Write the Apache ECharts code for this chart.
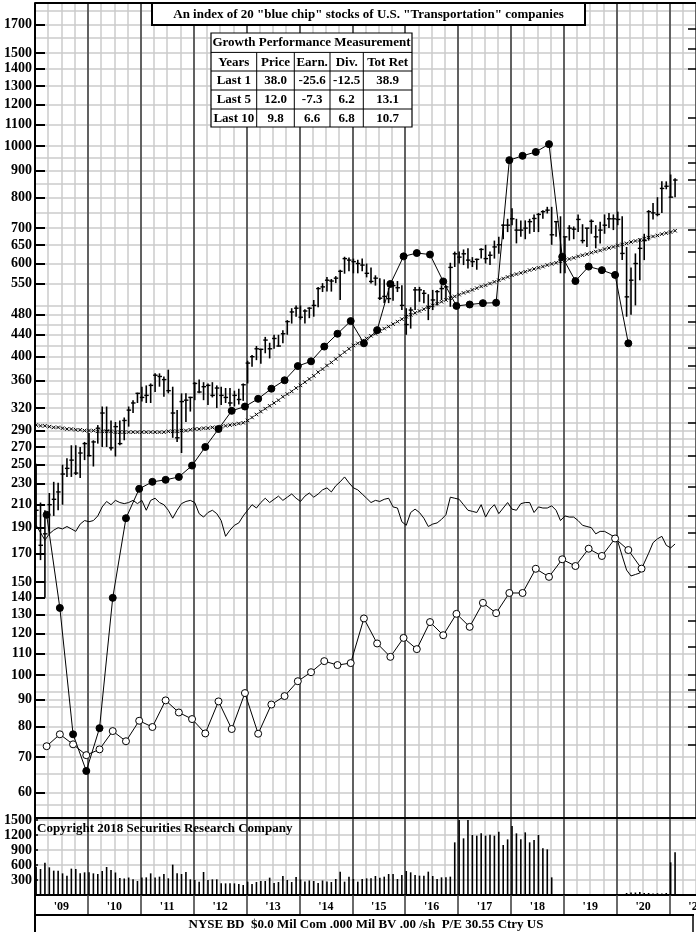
<!DOCTYPE html>
<html lang="en">
<head>
<meta charset="UTF-8" />
<title>Transportation index</title>
<script src="https://cdn.jsdelivr.net/npm/echarts@6/dist/echarts.min.js"></script>
<style>
  html, body { margin: 0; padding: 0; background: #fff; }
  #main { width: 696px; height: 932px; }
</style>
</head>
<body>
<div id="main"></div>
<script>
// monthly bars, Jan 2009 .. Feb 2021
var priceHigh = [251,212,205,221,232,231,250,257,272,272,270,276,
  287,278,297,322,322,303,301,303,307,322,331,342,
  351,353,356,372,372,367,378,351,317,341,341,336,
  358,362,358,356,358,353,351,349,349,345,348,356,
  393,403,419,414,436,425,440,440,449,469,494,500,
  500,492,496,512,542,551,566,561,568,584,618,616,
  613,610,613,600,590,570,563,560,540,555,556,546,
  494,496,542,542,535,525,535,535,546,546,602,632,
  632,638,641,617,613,641,651,632,663,674,712,729,
  763,729,724,724,729,743,748,757,768,768,720,737,
  674,709,705,743,712,700,727,709,720,743,748,743,
  752,737,645,590,627,669,683,757,781,801,858,858,884,870];
var priceLow = [190,165,140,185,200,205,210,237,237,239,236,255,
  259,248,274,270,270,266,259,272,278,295,313,327,
  329,327,327,343,351,336,341,281,276,263,301,315,
  331,341,331,324,335,320,324,327,322,322,325,330,
  356,383,394,388,406,397,414,418,424,440,462,476,
  470,462,473,476,496,530,531,531,551,512,574,580,
  575,575,580,565,550,545,512,505,505,510,530,490,
  440,452,490,508,505,469,490,500,512,512,497,591,
  600,596,587,591,584,613,600,596,613,626,667,688,
  709,655,674,667,683,688,688,729,746,651,674,575,
  575,663,667,688,655,645,683,641,655,683,700,694,
  709,609,476,480,500,558,609,663,727,737,748,829,801,801];
var priceClose = [205,176,185,210,215,222,240,246,255,241,263,274,
  260,276,293,313,290,269,295,274,303,317,327,341,
  335,338,353,369,367,362,345,313,281,329,331,335,
  356,343,351,353,338,349,338,335,327,338,332,354,
  389,400,414,413,430,414,433,419,442,466,486,494,
  475,488,494,500,538,542,558,556,563,580,613,609,
  605,600,596,575,555,563,516,520,515,545,540,500,
  460,490,535,535,527,497,512,531,538,542,590,626,
  617,626,609,605,611,638,613,622,645,651,709,709,
  729,694,694,700,720,730,743,752,757,680,720,609,
  674,700,697,727,663,700,721,674,694,709,729,729,
  727,627,519,558,600,641,663,752,748,743,832,840,801,863];
var movingAvg = [297,296,296,295,294,294,293,292,292,291,291,290,290,
  290,289,289,289,289,288,288,288,288,288,288,288,
  288,288,288,288,288,289,289,289,290,290,291,292,
  292,293,293,294,294,295,296,297,298,299,300,
  303,307,311,315,319,323,327,331,336,340,344,349,353,
  358,363,368,374,379,385,390,396,402,408,414,420,
  424,429,433,438,442,447,452,456,461,466,471,476,
  480,484,488,492,496,500,504,508,512,516,520,524,
  528,531,535,539,543,546,550,554,558,562,566,570,
  573,576,579,583,586,589,592,596,599,602,606,609,
  612,615,619,622,625,629,632,635,639,642,645,649,
  652,655,659,662,665,669,672,675,678,682,685,688,692];
var relStrength = [192,186,180,185,188,190,189,191,189,187,193,196,
  195,196,200,208,213,210,214,212,211,212,214,211,
  214,205,214,216,212,210,205,198,205,211,213,214,
  212,202,199,203,205,202,196,183,188,192,194,200,
  205,210,207,212,216,212,215,218,214,217,220,216,
  213,218,221,217,220,224,226,222,228,232,237,231,
  226,224,220,216,212,214,213,215,216,208,207,195,
  192,203,206,203,198,191,193,194,197,201,217,216,
  215,210,205,204,203,210,199,206,210,202,207,212,
  206,205,211,212,212,203,208,207,207,209,205,196,
  200,199,199,196,192,191,190,185,187,187,185,183,
  179,168,158,154,155,156,163,170,178,181,183,176,174,177];
var volume = [567,520,647,553,487,487,433,387,527,520,433,453,
  453,433,420,480,560,500,450,340,330,350,313,280,
  350,353,433,350,367,420,333,607,433,420,460,313,
  300,267,460,300,313,313,233,233,233,233,220,200,
  267,220,260,280,280,347,240,260,380,300,260,360,
  310,270,290,280,240,290,270,260,320,467,267,367,
  320,267,320,333,333,380,347,367,420,420,320,400,
  480,453,400,387,387,467,380,320,353,353,367,1053,
  1500,1133,1500,1200,1187,1233,1187,1207,1187,1267,1000,1113,
  1380,1233,1113,1253,1053,1100,1200,933,913,353,0,0,
  0,0,0,0,0,0,0,0,0,0,0,0,
  0,0,40,50,50,60,40,40,30,35,30,40,653,853];

// quarterly
var earnings = [201,134,77.3,65.9,79.4,140,198,225,232,234,237,249,270,292,316,
  322,333,348,361,384,392,418,442,467,424,449,549,619,628,624,555,499,502,505,506,
  941,959,975,1009,618,556,592,583,571,424];
var dividends = [73.4,77.3,74,70.6,72.4,78.4,75,82,79.8,89.6,85,82.6,77.6,89.2,79.1,
  92.5,77.5,88,91.3,97.4,101.3,106.3,104.5,105.4,128,114.8,108.3,117.6,112,126,119,
  130.6,123.4,137,131,143,143,158.9,153.4,165.6,160.8,173.4,168,181.3,172.4,159];

var yLabels = [60,70,80,90,100,110,120,130,140,150,170,190,210,230,250,270,290,320,360,
  400,440,480,550,600,650,700,800,900,1000,1100,1200,1300,1400,1500,1700];
var yGrid = [57,60,65,70,74,80,87,90,93,100,110,120,130,140,150,160,170,180,190,200,
  210,220,230,240,250,260,270,280,290,300,320,340,360,380,400,420,440,460,480,500,
  550,600,650,700,750,800,850,900,950,1000,1100,1200,1300,1400,1500,1600,1700,1800];
var rightTicks = [74,80,87,94,100,113,127,147,160,186,200,227,260,300,350,384,415,465,
  500,566,632,695,767,863,930,1000,1131,1400,1530,1666];
var volLabels = [300,600,900,1200,1500];
var yearStarts = [2010,2011,2012,2013,2014,2015,2016,2017,2018,2019,2020,2021];
var yearMids = [2009.5,2010.5,2011.5,2012.5,2013.5,2014.5,2015.5,2016.5,2017.5,2018.5,2019.5,2020.5,2021.5];

var tableHead = ['Years', 'Price', 'Earn.', 'Div.', 'Tot Ret'];
var tableRows = [
  ['Last 1', '38.0', '-25.6', '-12.5', '38.9'],
  ['Last 5', '12.0', '-7.3', '6.2', '13.1'],
  ['Last 10', '9.8', '6.6', '6.8', '10.7']
];

var FONT = 'Liberation Serif';
var XMIN = 2009, XMAX = 2021.5;
var YMIN = 53.7, YMAX = 1865;

function monthX(i) { return 2009 + (i + 0.25) / 12; }
function quarterX(i) { return 2009.22 + i * 0.25; }

var barData = priceHigh.map(function (h, i) {
  return [monthX(i), h, priceLow[i], priceClose[i]];
});
var maData = movingAvg.map(function (v, i) { return [monthX(i), v]; });
var rsData = relStrength.map(function (v, i) { return [monthX(i), v]; });
var volData = volume.map(function (v, i) { return [monthX(i), v]; });
var epsData = earnings.map(function (v, i) { return [quarterX(i), v]; });
var divData = dividends.map(function (v, i) { return [quarterX(i), v]; });

function renderBar(params, api) {
  var x = api.value(0);
  var hi = api.coord([x, api.value(1)]);
  var lo = api.coord([x, api.value(2)]);
  var cl = api.coord([x, api.value(3)]);
  return {
    type: 'group',
    children: [
      { type: 'line', shape: { x1: hi[0], y1: hi[1], x2: lo[0], y2: lo[1] },
        style: { stroke: '#000', lineWidth: 1.6 } },
      { type: 'line', shape: { x1: cl[0] - 2, y1: cl[1], x2: cl[0] + 2.5, y2: cl[1] },
        style: { stroke: '#000', lineWidth: 1.4 } }
    ]
  };
}

var gray = { color: '#cbcbcb', width: 1.5 };
var dark = { color: '#3a3a3a', width: 1.5 };
var labelFont = { fontFamily: FONT, fontWeight: 'bold', fontSize: 14, color: '#000' };
function plain(v) { return String(v); }

// table graphic
var tx = 211, ty = 33, tw = 201, th = 94;
var rowY = [0, 19.4, 38, 57, 76, 94];
var colX = [0, 45.7, 83.3, 119, 152.3, 201];
var tableChildren = [
  { type: 'rect', z: 60, shape: { x: 0, y: 0, width: tw, height: th },
    style: { fill: '#fff', stroke: '#000', lineWidth: 1.2 } },
  { type: 'text', z: 62, x: tw / 2, y: rowY[0] + 10,
    style: { text: 'Growth Performance Measurement', font: 'bold 13px ' + FONT,
      align: 'center', verticalAlign: 'middle', fill: '#000' } }
];
for (var r = 1; r < 5; r++) {
  tableChildren.push({ type: 'line', z: 61, shape: { x1: 0, y1: rowY[r], x2: tw, y2: rowY[r] },
    style: { stroke: '#000', lineWidth: 1 } });
}
for (var c = 1; c < 5; c++) {
  tableChildren.push({ type: 'line', z: 61, shape: { x1: colX[c], y1: rowY[1], x2: colX[c], y2: th },
    style: { stroke: '#000', lineWidth: 1 } });
}
[tableHead].concat(tableRows).forEach(function (row, ri) {
  row.forEach(function (cell, ci) {
    tableChildren.push({ type: 'text', z: 62, x: (colX[ci] + colX[ci + 1]) / 2,
      y: (rowY[ri + 1] + rowY[ri + 2]) / 2 + 0.5,
      style: { text: cell, font: 'bold 13px ' + FONT, align: 'center',
        verticalAlign: 'middle', fill: '#000' } });
  });
});

var chart = echarts.init(document.getElementById('main'), null, { renderer: 'canvas' });
var option = {
  animation: false,
  backgroundColor: '#fff',
  grid: [
    { left: 35, right: 0, top: 3, height: 815, outerBoundsMode: 'none' },
    { left: 35, right: 0, top: 818, height: 77, outerBoundsMode: 'none' }
  ],
  xAxis: [
    { gridIndex: 0, type: 'value', position: 'bottom', min: XMIN, max: XMAX, interval: 0.25,
      axisLine: { show: true, onZero: false, lineStyle: { color: '#000', width: 2 } },
      axisTick: { show: false }, axisLabel: { show: false },
      splitLine: { show: true, lineStyle: gray } },
    { gridIndex: 0, type: 'value', position: 'bottom', min: XMIN, max: XMAX, interval: 1,
      axisLine: { show: false }, axisTick: { show: false }, axisLabel: { show: false },
      splitLine: { show: true, lineStyle: dark } },
    { gridIndex: 1, type: 'value', position: 'bottom', min: XMIN, max: XMAX, interval: 0.25,
      axisLine: { show: false }, axisTick: { show: false }, axisLabel: { show: false },
      splitLine: { show: true, lineStyle: gray } },
    { gridIndex: 1, type: 'value', position: 'bottom', min: XMIN, max: XMAX, interval: 1,
      axisLine: { show: true, onZero: false, lineStyle: { color: '#000', width: 2 } },
      axisTick: { show: true, length: 20, customValues: yearStarts, lineStyle: dark },
      axisLabel: Object.assign({}, labelFont, { customValues: yearMids, fontSize: 12, margin: 6,
        formatter: function (v) { return "'" + String(Math.floor(v)).slice(2); } }),
      splitLine: { show: true, lineStyle: dark } }
  ],
  yAxis: [
    { gridIndex: 0, type: 'log', logBase: 10, position: 'left', min: YMIN, max: YMAX,
      axisLine: { show: false }, axisLabel: { show: false },
      axisTick: { show: false, customValues: yGrid },
      splitLine: { show: true, lineStyle: gray } },
    { gridIndex: 0, type: 'log', logBase: 10, position: 'left', min: YMIN, max: YMAX,
      axisLine: { show: true, lineStyle: { color: '#000', width: 2 } },
      axisTick: { show: true, inside: true, length: 10, customValues: yLabels,
        lineStyle: { color: '#000', width: 2 } },
      axisLabel: Object.assign({ customValues: yLabels, margin: 3, formatter: plain }, labelFont),
      splitLine: { show: false } },
    { gridIndex: 0, type: 'log', logBase: 10, position: 'right', min: YMIN, max: YMAX,
      axisLine: { show: false }, axisLabel: { show: false },
      axisTick: { show: true, inside: true, length: 8, customValues: rightTicks,
        lineStyle: { color: '#000', width: 1.5 } },
      splitLine: { show: false } },
    { gridIndex: 1, type: 'value', position: 'left', min: 0, max: 1540,
      axisLine: { show: true, lineStyle: { color: '#000', width: 2 } },
      axisTick: { show: true, inside: true, length: 3, customValues: volLabels,
        lineStyle: { color: '#000', width: 1.5 } },
      axisLabel: Object.assign({ customValues: volLabels, margin: 3, formatter: plain }, labelFont),
      splitLine: { show: true, lineStyle: gray } }
  ],
  series: [
    { name: 'Moving average', type: 'line', xAxisIndex: 0, yAxisIndex: 0, data: maData,
      showAllSymbol: true, symbol: 'path://M0,0L10,10M10,0L0,10', symbolSize: 3.5,
      itemStyle: { color: 'none', borderColor: '#000', borderWidth: 1 },
      lineStyle: { color: '#666', width: 0.5 }, z: 3 },
    { name: 'Relative strength', type: 'line', xAxisIndex: 0, yAxisIndex: 0, data: rsData,
      showSymbol: false, lineStyle: { color: '#000', width: 1 }, z: 3 },
    { name: 'Dividends', type: 'line', xAxisIndex: 0, yAxisIndex: 0, data: divData,
      symbol: 'circle', symbolSize: 7, showAllSymbol: true,
      itemStyle: { color: '#fff', borderColor: '#000', borderWidth: 1 },
      lineStyle: { color: '#000', width: 1 }, z: 4 },
    { name: 'Earnings', type: 'line', xAxisIndex: 0, yAxisIndex: 0, data: epsData,
      symbol: 'circle', symbolSize: 7, showAllSymbol: true,
      itemStyle: { color: '#000', borderColor: '#000', borderWidth: 1 },
      lineStyle: { color: '#000', width: 1 }, z: 4 },
    { name: 'Price', type: 'custom', xAxisIndex: 0, yAxisIndex: 0, data: barData,
      renderItem: renderBar, encode: { x: 0, y: [1, 2, 3] }, z: 5 },
    { name: 'Volume', type: 'bar', xAxisIndex: 2, yAxisIndex: 3, data: volData,
      barWidth: 1.6, itemStyle: { color: '#000' }, z: 3 }
  ],
  graphic: [
    { type: 'line', z: 50, shape: { x1: 35, y1: 3, x2: 696, y2: 3 },
      style: { stroke: '#000', lineWidth: 2 } },
    { type: 'rect', z: 60, shape: { x: 152, y: 3, width: 433, height: 22 },
      style: { fill: '#fff', stroke: '#000', lineWidth: 2 } },
    { type: 'text', z: 61, x: 368.5, y: 15,
      style: { text: 'An index of 20 "blue chip" stocks of U.S. "Transportation" companies',
        font: 'bold 13px ' + FONT, align: 'center', verticalAlign: 'middle', fill: '#000' } },
    { type: 'group', z: 60, x: tx, y: ty, children: tableChildren },
    { type: 'text', z: 60, x: 37, y: 829,
      style: { text: 'Copyright 2018 Securities Research Company',
        font: 'bold 13px ' + FONT, align: 'left', verticalAlign: 'middle', fill: '#000' } },
    { type: 'line', z: 50, shape: { x1: 35, y1: 915, x2: 694, y2: 915 },
      style: { stroke: '#000', lineWidth: 2 } },
    { type: 'line', z: 50, shape: { x1: 35, y1: 895, x2: 35, y2: 932 },
      style: { stroke: '#000', lineWidth: 2 } },
    { type: 'line', z: 50, shape: { x1: 693, y1: 915, x2: 693, y2: 932 },
      style: { stroke: '#000', lineWidth: 1.5 } },
    { type: 'text', z: 60, x: 366, y: 925,
      style: { text: 'NYSE BD  $0.0 Mil Com .000 Mil BV .00 /sh  P/E 30.55 Ctry US',
        font: 'bold 13px ' + FONT, align: 'center', verticalAlign: 'middle', fill: '#000' } }
  ]
};
chart.setOption(option);
</script>
</body>
</html>
